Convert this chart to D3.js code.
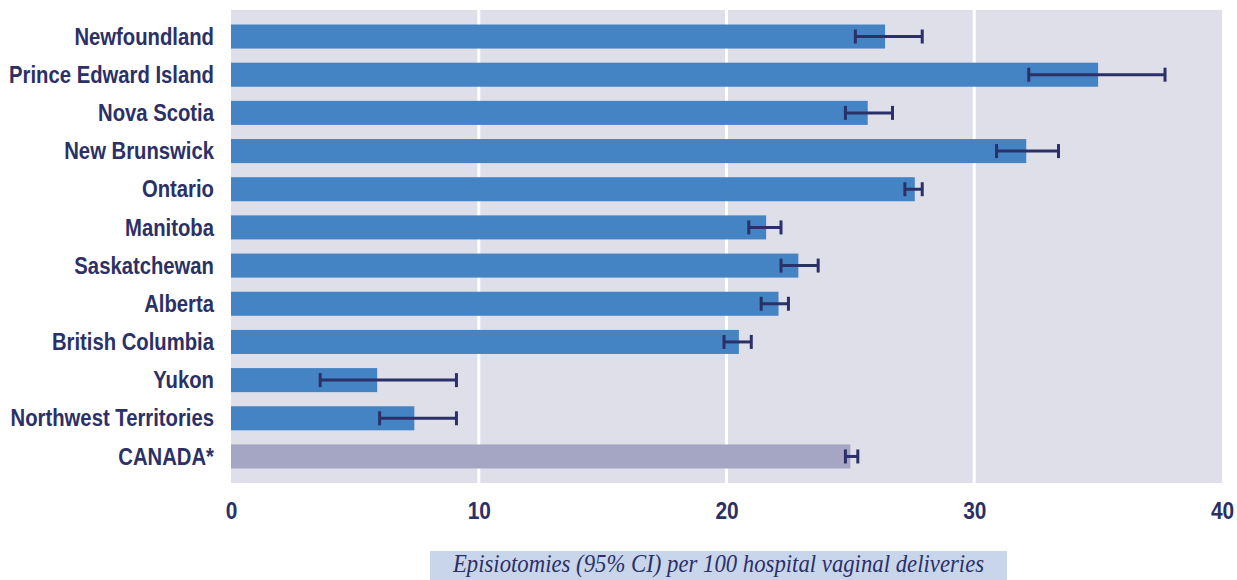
<!DOCTYPE html>
<html>
<head>
<meta charset="utf-8">
<script src="https://cdn.jsdelivr.net/npm/d3@7"></script>
<style>
  html, body { margin: 0; padding: 0; background: #ffffff; }
  svg { display: block; }
  .cat { font-family: "Liberation Sans", Arial, sans-serif; font-weight: bold; font-size: 23.3px; fill: #2b3066; }
  .tick text { font-family: "Liberation Sans", Arial, sans-serif; font-weight: bold; font-size: 24px; fill: #2b3066; }
  .xtitle { font-family: "Liberation Serif", "DejaVu Serif", serif; font-style: italic; font-size: 25px; fill: #2b3066; }
</style>
</head>
<body>
<svg id="chart" width="1237" height="580"></svg>
<script>
// Episiotomy rates by province/territory, per 100 hospital vaginal deliveries
const regions = ["Newfoundland", "Prince Edward Island", "Nova Scotia", "New Brunswick",
  "Ontario", "Manitoba", "Saskatchewan", "Alberta", "British Columbia", "Yukon",
  "Northwest Territories", "CANADA*"];
const rates   = [26.4, 35.0, 25.7, 32.1, 27.6, 21.6, 22.9, 22.1, 20.5, 5.9, 7.4, 25.0];
const ciLow   = [25.2, 32.2, 24.8, 30.9, 27.2, 20.9, 22.2, 21.4, 19.9, 3.6, 6.0, 24.8];
const ciHigh  = [27.9, 37.7, 26.7, 33.4, 27.9, 22.2, 23.7, 22.5, 21.0, 9.1, 9.1, 25.3];
const xTicks  = [0, 10, 20, 30, 40];
const xTitle  = "Episiotomies (95% CI) per 100 hospital vaginal deliveries";

const data = regions.map((r, i) => ({ region: r, rate: rates[i], lo: ciLow[i], hi: ciHigh[i], total: i === regions.length - 1 }));

const svg = d3.select("#chart");
const plot = { left: 231, right: 1222, top: 10, bottom: 483 };
const narrow = 0.87; // horizontal squeeze giving a condensed sans look

const x = d3.scaleLinear().domain([0, 40]).range([plot.left, plot.right]);
const y = d3.scaleBand().domain(regions).range([plot.top, plot.bottom])
  .paddingInner(0.37).paddingOuter(0.38);

// plot background
svg.append("rect")
  .attr("x", plot.left).attr("y", plot.top)
  .attr("width", plot.right - plot.left).attr("height", plot.bottom - plot.top)
  .attr("fill", "#dfdfea");

// vertical gridlines
svg.append("g").selectAll("line")
  .data(xTicks.filter(t => t > 0 && t < 40))
  .join("line")
  .attr("x1", d => x(d)).attr("x2", d => x(d))
  .attr("y1", plot.top).attr("y2", plot.bottom)
  .attr("stroke", "#ffffff").attr("stroke-width", 3);

// bars
svg.append("g").selectAll("rect")
  .data(data)
  .join("rect")
  .attr("x", x(0))
  .attr("y", d => y(d.region))
  .attr("width", d => x(d.rate) - x(0))
  .attr("height", y.bandwidth())
  .attr("fill", d => d.total ? "#a5a6c4" : "#4584c4");

// confidence intervals
const ci = svg.append("g").attr("stroke", "#2b3068").attr("stroke-width", 3);
const cy = d => y(d.region) + y.bandwidth() / 2;
const capH = 7;
ci.selectAll("line.span").data(data).join("line").attr("class", "span")
  .attr("x1", d => x(d.lo)).attr("x2", d => x(d.hi))
  .attr("y1", cy).attr("y2", cy);
ci.selectAll("line.lo").data(data).join("line").attr("class", "lo")
  .attr("x1", d => x(d.lo)).attr("x2", d => x(d.lo))
  .attr("y1", d => cy(d) - capH).attr("y2", d => cy(d) + capH);
ci.selectAll("line.hi").data(data).join("line").attr("class", "hi")
  .attr("x1", d => x(d.hi)).attr("x2", d => x(d.hi))
  .attr("y1", d => cy(d) - capH).attr("y2", d => cy(d) + capH);

// category labels
svg.append("g").selectAll("text")
  .data(data)
  .join("text")
  .attr("class", "cat")
  .attr("transform", d => `translate(214, ${cy(d)}) scale(${narrow}, 1)`)
  .attr("dy", "0.35em")
  .attr("text-anchor", "end")
  .text(d => d.region);

// x axis
const xAxis = d3.axisBottom(x).tickValues(xTicks).tickSize(0).tickPadding(0).tickFormat(d3.format("d"));
const gx = svg.append("g").attr("transform", `translate(0, ${plot.bottom})`).call(xAxis);
gx.select(".domain").remove();
gx.selectAll(".tick text")
  .attr("y", null).attr("dy", null)
  .attr("transform", `translate(0, 36) scale(${narrow}, 1)`);

// axis title box
const boxX = 430, boxW = 577;
svg.append("rect")
  .attr("x", boxX).attr("y", 551).attr("width", boxW).attr("height", 29)
  .attr("fill", "#c9d5eb");
svg.append("text")
  .attr("class", "xtitle")
  .attr("transform", `translate(${boxX + boxW / 2}, 572) scale(0.91, 1)`)
  .attr("text-anchor", "middle")
  .text(xTitle);
</script>
</body>
</html>
